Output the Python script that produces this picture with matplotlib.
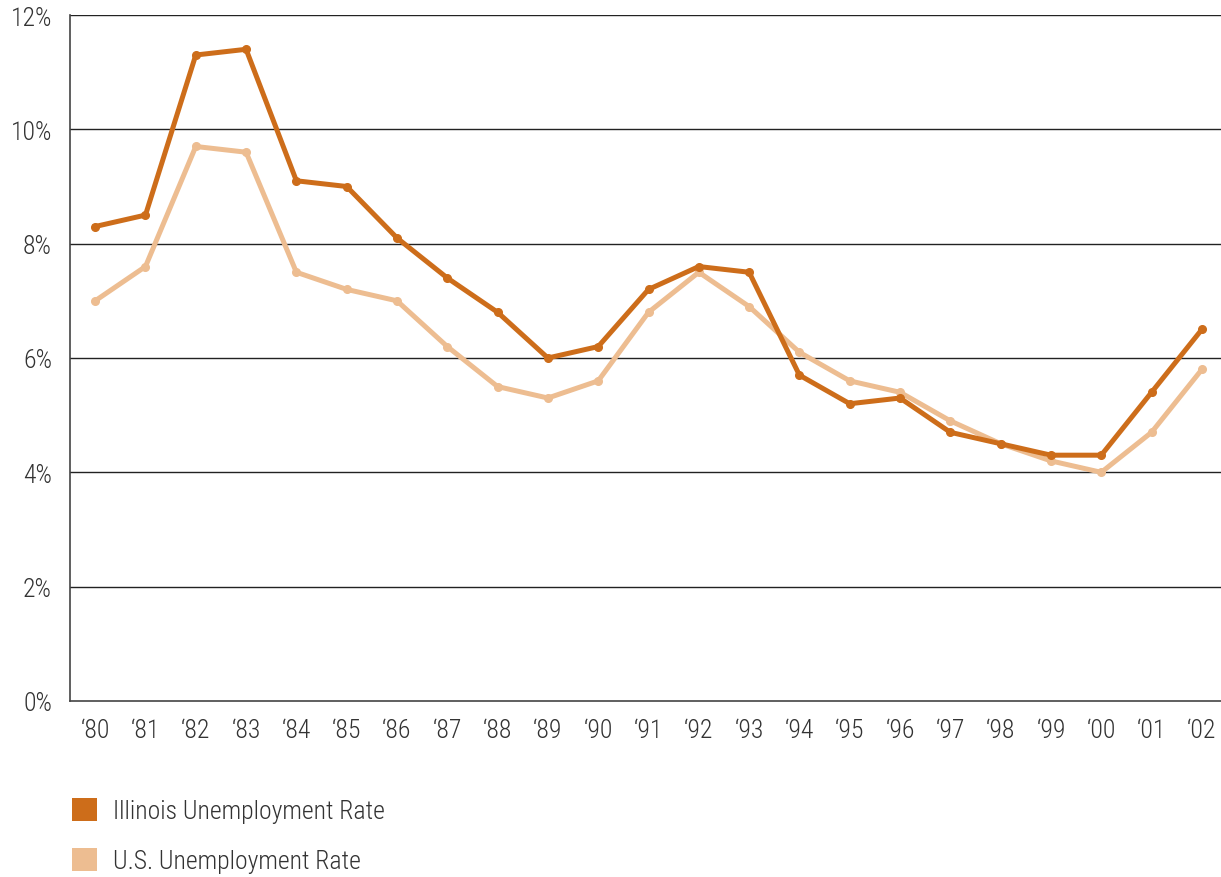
import matplotlib
matplotlib.use("Agg")
import matplotlib.pyplot as plt
from matplotlib.patches import Patch
from matplotlib import font_manager

years = ["'80", "'81", "'82", "'83", "'84", "'85", "'86", "'87", "'88", "'89", "'90",
         "'91", "'92", "'93", "'94", "'95", "'96", "'97", "'98", "'99", "'00", "'01", "'02"]
illinois = [8.3, 8.5, 11.3, 11.4, 9.1, 9.0, 8.1, 7.4, 6.8, 6.0, 6.2,
            7.2, 7.6, 7.5, 5.7, 5.2, 5.3, 4.7, 4.5, 4.3, 4.3, 5.4, 6.5]
us = [7.0, 7.6, 9.7, 9.6, 7.5, 7.2, 7.0, 6.2, 5.5, 5.3, 5.6,
      6.8, 7.5, 6.9, 6.1, 5.6, 5.4, 4.9, 4.5, 4.2, 4.0, 4.7, 5.8]
y_ticks = [0, 2, 4, 6, 8, 10, 12]

# pick a condensed sans face
names = {f.name for f in font_manager.fontManager.ttflist}
family = "DejaVu Sans"
for cand in ["Roboto Condensed", "IBM Plex Sans Condensed", "Liberation Sans Narrow",
             "Archivo Narrow", "PT Sans Narrow"]:
    if cand in names:
        family = cand
        break
plt.rcParams["font.family"] = [family, "DejaVu Sans"]
plt.rcParams["font.weight"] = 300

IL_COLOR = "#CD6D1A"
US_COLOR = "#EDBD91"
TEXT = "#333333"
FS = 18.5

fig = plt.figure(figsize=(12.21, 8.78), dpi=100)
ax = fig.add_axes([70 / 1221, 1 - 702 / 878, 1 - 70 / 1221, (702 - 16) / 878])

x = list(range(len(years)))
ax.plot(x, us, color=US_COLOR, lw=3.6, marker="o", ms=5.5, zorder=3,
        solid_joinstyle="round")
ax.plot(x, illinois, color=IL_COLOR, lw=3.6, marker="o", ms=5.5, zorder=4,
        solid_joinstyle="round")

ax.set_xlim(-0.5, 22.38)
ax.set_ylim(0, 12)
ax.set_yticks(y_ticks)
ax.set_yticklabels([f"{v}%" for v in y_ticks])
ax.set_xticks(x)
ax.set_xticklabels([y.replace("'", "\u2018") for y in years])

for v in y_ticks[1:]:
    ax.axhline(v, color="#222222", lw=1.0, zorder=1)

for s in ["top", "right"]:
    ax.spines[s].set_visible(False)
for s in ["left", "bottom"]:
    ax.spines[s].set_color("#444444")
    ax.spines[s].set_linewidth(1.2)

ax.tick_params(axis="both", length=0, labelsize=FS, colors=TEXT)
ax.tick_params(axis="x", pad=12)
ax.tick_params(axis="y", pad=13)

handles = [Patch(facecolor=IL_COLOR, edgecolor="none", label="Illinois Unemployment Rate"),
           Patch(facecolor=US_COLOR, edgecolor="none", label="U.S. Unemployment Rate")]
leg = fig.legend(handles=handles, loc="upper left", bbox_to_anchor=(72 / 1221, 1 - 799 / 878),
                 frameon=False, fontsize=FS, handlelength=0.98, handleheight=1.0,
                 handletextpad=0.6, labelspacing=0.95, borderaxespad=0, borderpad=0)
for t in leg.get_texts():
    t.set_color(TEXT)

fig.savefig("out.png", dpi=100)
